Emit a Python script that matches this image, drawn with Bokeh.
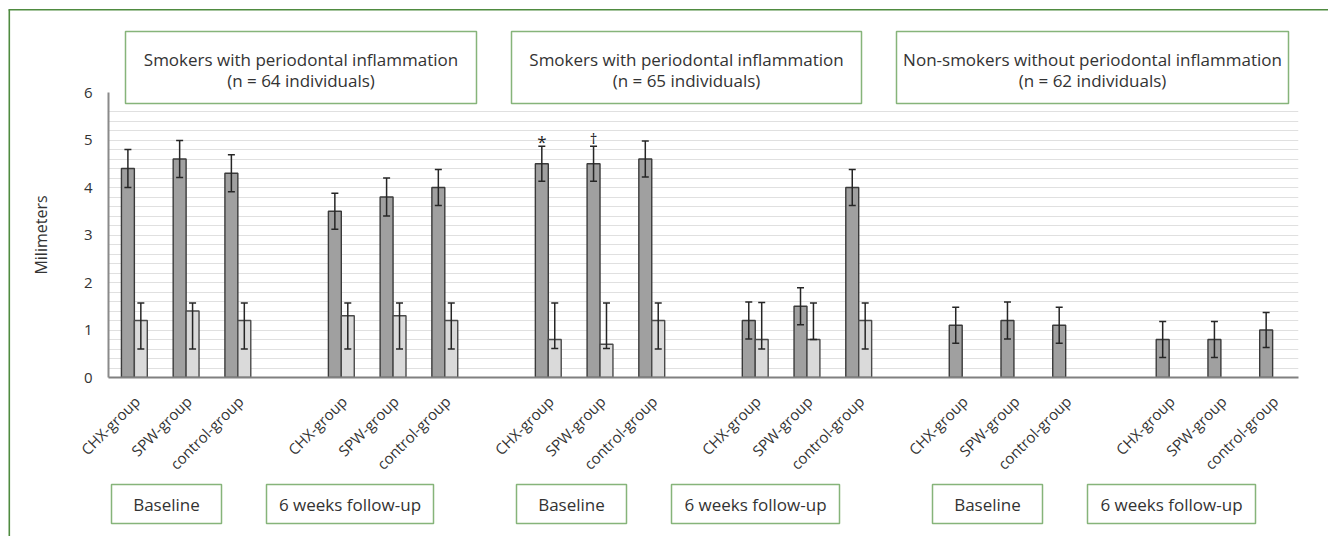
from bokeh.plotting import figure
from bokeh.models import FixedTicker, Whisker, ColumnDataSource, TeeHead, Range1d
from bokeh.core.properties import value
from bokeh.embed import file_html
from bokeh.resources import INLINE

# ---------------- data ----------------
groups = ["CHX-group", "SPW-group", "control-group"]
timepoints = ["Baseline", "6 weeks follow-up"]
population_titles = ["Smokers with periodontal inflammation",
                     "Smokers with periodontal inflammation",
                     "Non-smokers without periodontal inflammation"]
population_sizes = ["(n = 64 individuals)", "(n = 65 individuals)", "(n = 62 individuals)"]

# dark (grey) bars: 6 clusters x 3 groups
dark_values = [4.4, 4.6, 4.3,   3.5, 3.8, 4.0,
               4.5, 4.5, 4.6,   1.2, 1.5, 4.0,
               1.1, 1.2, 1.1,   0.8, 0.8, 1.0]
dark_errors = [0.40, 0.39, 0.39, 0.38, 0.40, 0.38,
               0.37, 0.37, 0.38, 0.39, 0.39, 0.38,
               0.38, 0.39, 0.38, 0.38, 0.38, 0.37]
# light bars: only the two smoker populations (first 12 groups)
light_values = [1.2, 1.4, 1.2,  1.3, 1.3, 1.2,
                0.8, 0.7, 1.2,  0.8, 0.8, 1.2]
light_upper = [1.57, 1.57, 1.57, 1.57, 1.57, 1.57,
               1.57, 1.57, 1.57, 1.58, 1.57, 1.57]
light_lower = [0.60, 0.60, 0.60, 0.60, 0.60, 0.60,
               0.61, 0.61, 0.60, 0.60, 0.80, 0.60]
significance = ["", "", "", "", "", "", "*", "\u2020", "", "", "", "", "", "", "", "", "", ""]

# ---------------- layout helpers ----------------
W, H = 1328, 536
FL, FR, FT, FB = 108, 1298, 92, 377
NSLOT = 23
slot_px = (FR - FL) / NSLOT
YMAX = 6.0
unit_px = (FB - FT) / YMAX

def xd(px):
    return -0.5 + (px - FL) / slot_px

def yd(py):
    return (FB - py) / unit_px

n = len(dark_values)
slots = [(i // 3) * 4 + (i % 3) for i in range(n)]
bw = 0.25
dark_x = [s - bw / 2 for s in slots]
light_x = [slots[i] + bw / 2 for i in range(len(light_values))]

FONT = "Open Sans"
TXT = "#333333"
BOX_GREEN = "#86b47a"
FRAME_GREEN = "#4f8b40"

p = figure(width=W, height=H, output_backend="svg", toolbar_location=None,
           x_range=Range1d(-0.5, NSLOT - 0.5), y_range=Range1d(0, YMAX),
           min_border_left=FL, min_border_right=W - FR,
           min_border_top=FT, min_border_bottom=H - FB)
p.outline_line_color = None
p.background_fill_color = "white"
p.border_fill_color = "white"

# grid
p.xgrid.grid_line_color = None
p.ygrid.ticker = FixedTicker(ticks=[round(0.2 * k, 1) for k in range(1, 29)])
p.ygrid.grid_line_color = "#e0e0e0"
p.ygrid.grid_line_width = 1

# y axis
p.yaxis.ticker = FixedTicker(ticks=[0, 1, 2, 3, 4, 5, 6])
p.yaxis.axis_line_color = "#8a8a8a"
p.yaxis.axis_line_width = 2
p.yaxis.major_tick_line_color = None
p.yaxis.minor_tick_line_color = None
p.yaxis.major_label_text_font = FONT
p.yaxis.major_label_text_font_size = "15px"
p.yaxis.major_label_text_color = TXT
p.yaxis.major_label_standoff = 10
p.yaxis.axis_label = "Milimeters"
p.yaxis.axis_label_text_font = FONT
p.yaxis.axis_label_text_font_size = "16px"
p.yaxis.axis_label_text_font_style = "normal"
p.yaxis.axis_label_text_color = TXT
p.yaxis.axis_label_standoff = 29

# x axis
tick_shift = 0.05
tick_pos = [s + tick_shift for s in slots]
p.xaxis.ticker = FixedTicker(ticks=tick_pos)
p.xaxis.major_label_overrides = {t: groups[i % 3] for i, t in enumerate(tick_pos)}
p.xaxis.major_label_orientation = 0.785398
p.xaxis.axis_line_color = "#808080"
p.xaxis.axis_line_width = 2
p.xaxis.major_tick_line_color = None
p.xaxis.minor_tick_line_color = None
p.xaxis.major_label_text_font = FONT
p.xaxis.major_label_text_font_size = "15px"
p.xaxis.major_label_text_color = TXT
p.xaxis.major_label_standoff = 15

# bars
p.vbar(x=dark_x, top=dark_values, width=bw, bottom=0,
       fill_color="#a0a0a0", line_color="#3a3a3a", line_width=1.4)
p.vbar(x=light_x, top=light_values, width=bw, bottom=0,
       fill_color="#dadada", line_color="#4a4a4a", line_width=1.4)

# error bars (drawn above the bars)
dsrc = ColumnDataSource(dict(x=dark_x,
                             up=[v + e for v, e in zip(dark_values, dark_errors)],
                             lo=[v - e for v, e in zip(dark_values, dark_errors)]))
lsrc = ColumnDataSource(dict(x=light_x, up=light_upper, lo=light_lower))
for src in (dsrc, lsrc):
    w = Whisker(source=src, base="x", upper="up", lower="lo", dimension="height",
                line_color="#262626", line_width=1.5, level="annotation",
                upper_head=TeeHead(size=7, line_color="#262626", line_width=1.5),
                lower_head=TeeHead(size=7, line_color="#262626", line_width=1.5))
    p.add_layout(w)

# significance marks (placed just above the upper whisker)
mark_offset = {"*": 0.09, "\u2020": 0.18}
mark_size = {"*": "17px", "\u2020": "15px"}
for i in range(n):
    s = significance[i]
    if s:
        p.text(x=[dark_x[i]], y=[dark_values[i] + dark_errors[i] + mark_offset[s]], text=[s],
               text_align="center", text_baseline="alphabetic",
               text_font=value(FONT), text_font_size=mark_size[s], text_color="#222222")

# ---------------- boxes (decoration) ----------------
top_boxes_px = [(125, 476), (511, 861), (896, 1288)]
top_y_px = (31, 103)
bottom_boxes_px = [(111, 221), (266, 433), (516, 626), (671, 839), (932, 1042), (1087, 1255)]
bottom_y_px = (484, 523)

p.quad(left=[xd(a) for a, b in top_boxes_px], right=[xd(b) for a, b in top_boxes_px],
       top=yd(top_y_px[0]), bottom=yd(top_y_px[1]),
       fill_color="white", line_color=BOX_GREEN, line_width=1.5, level="overlay")
p.quad(left=[xd(a) for a, b in bottom_boxes_px], right=[xd(b) for a, b in bottom_boxes_px],
       top=yd(bottom_y_px[0]), bottom=yd(bottom_y_px[1]),
       fill_color="white", line_color=BOX_GREEN, line_width=1.5, level="overlay")

tcx = [xd((a + b) / 2) for a, b in top_boxes_px]
p.text(x=tcx, y=[yd(59)] * 3, text=population_titles, text_align="center",
       text_baseline="middle", text_font=value(FONT), text_font_size="17px",
       text_color=TXT, level="overlay")
p.text(x=tcx, y=[yd(80)] * 3, text=population_sizes, text_align="center",
       text_baseline="middle", text_font=value(FONT), text_font_size="17px",
       text_color=TXT, level="overlay")
bcx = [xd((a + b) / 2) for a, b in bottom_boxes_px]
p.text(x=bcx, y=[yd(504)] * 6, text=[timepoints[k % 2] for k in range(6)],
       text_align="center", text_baseline="middle", text_font=value(FONT),
       text_font_size="17px", text_color=TXT, level="overlay")

# outer frame (top and left edges)
p.segment(x0=[xd(8), xd(8.8)], y0=[yd(9.2), yd(9.2)], x1=[xd(W), xd(8.8)], y1=[yd(9.2), yd(H)],
          line_color=FRAME_GREEN, line_width=1.6, level="overlay")

open("out.html", "w").write(file_html(p, INLINE))
